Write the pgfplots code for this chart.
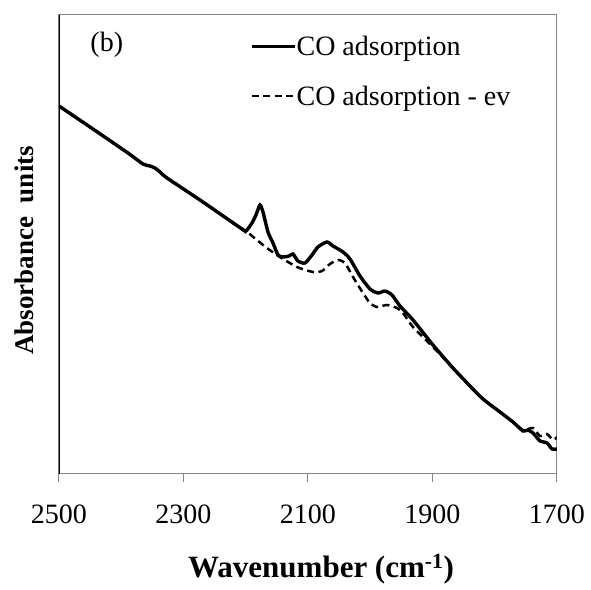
\documentclass[border=0pt]{standalone}
\usepackage{pgfplots}
\pgfplotsset{compat=1.18}
\usepackage{fontspec}
\setmainfont{Liberation Serif}
\definecolor{axgray}{RGB}{134,134,134}
\begin{document}
\begin{tikzpicture}
\begin{axis}[
  scale only axis,
  width=498pt, height=458.5pt,
  x dir=reverse,
  xmin=1700, xmax=2500,
  ymin=26.5, ymax=485,
  xtick={1700,1900,2100,2300,2500},
  xtick pos=bottom,
  tick align=outside,
  major tick length=8pt,
  ytick=\empty,
  axis line style={axgray, line width=1pt},
  every tick/.style={axgray, line width=1pt},
  tick label style={font=\fontsize{28}{30}\selectfont},
  xticklabel style={yshift=-20pt},
  /pgf/number format/assume math mode=true,
  /pgf/number format/1000 sep={},
  xlabel={\textbf{Wavenumber (cm\textsuperscript{-1})}},
  xlabel style={font=\fontsize{31}{33}\selectfont, yshift=-23pt, xshift=13pt},
  ylabel={\textbf{Absorbance\ \ units}},
  ylabel style={font=\fontsize{27}{29}\selectfont, yshift=14pt, xshift=-6pt},
  legend style={draw=none, fill=none, at={(0.3835,0.955)}, anchor=north west,
    font=\fontsize{28}{30}\selectfont, row sep=29pt, inner sep=0pt,
    nodes={inner sep=0pt}},
  legend cell align=left,
  legend image code/.code={\draw[#1] (0pt,0pt) -- (43pt,0pt);},
]
\addplot[black, line width=3.4pt, smooth, tension=0.4] coordinates {
(2500,394) (2450.2,373) (2389.2,347) (2365.1,336) (2353.8,334) (2345.8,332)
(2337.8,328) (2326.5,322) (2273.5,300) (2206.0,271) (2199.6,269)
(2190.0,277) (2183.6,285) (2177.1,295) (2172.3,288) (2164.3,268)
(2156.2,257) (2148.2,245) (2140.2,243) (2130.5,244) (2124.1,246)
(2116.1,239) (2104.8,237) (2093.6,245) (2084.0,253) (2069.5,258)
(2059.8,254) (2043.8,248) (2032.5,241) (2016.5,224) (2000.4,211)
(1987.6,207) (1976.3,209) (1965.1,205) (1952.2,194) (1931.3,180)
(1899.2,155) (1867.1,132) (1839.8,114) (1818.9,101) (1791.6,88)
(1770.7,78) (1754.6,69) (1746.6,70) (1738.6,67) (1733,63) (1727.3,59) (1716.1,57)
(1708.0,51) (1700,51)
};
\addlegendentry{CO adsorption}
\addplot[black, line width=2.5pt, dash pattern=on 7pt off 4.5pt, smooth, tension=0.4] coordinates {
(2500,394) (2450.2,373) (2389.2,347) (2365.1,336) (2353.8,334) (2345.8,332)
(2337.8,328) (2326.5,322) (2273.5,300) (2206.0,271) (2199.6,269)
(2182,260) (2166,252) (2145,243) (2117.7,233) (2092,228) (2077.5,229)
(2064.7,236) (2051.8,240) (2040.6,237) (2027.7,223) (2011.7,207)
(2000.4,197) (1989.2,193) (1973.1,195) (1957.0,192) (1947.4,187)
(1931.3,173) (1899.2,153) (1867.1,132) (1839.8,114) (1818.9,101)
(1791.6,88) (1770.7,78) (1754.6,70) (1738.6,72) (1727.3,64) (1716.1,66)
(1706.4,60) (1700,63)
};
\addlegendentry{CO adsorption - ev}
\node[font=\fontsize{28}{30}\selectfont] at (rel axis cs:0.096,0.935) {(b)};
\draw[black, line width=1.2pt] (rel axis cs:0,0) -- (rel axis cs:0,1);
\end{axis}
\path (current axis.south west) +(-59pt,-115.5pt) (current axis.north east) +(34pt,15pt);
\end{tikzpicture}
\end{document}
